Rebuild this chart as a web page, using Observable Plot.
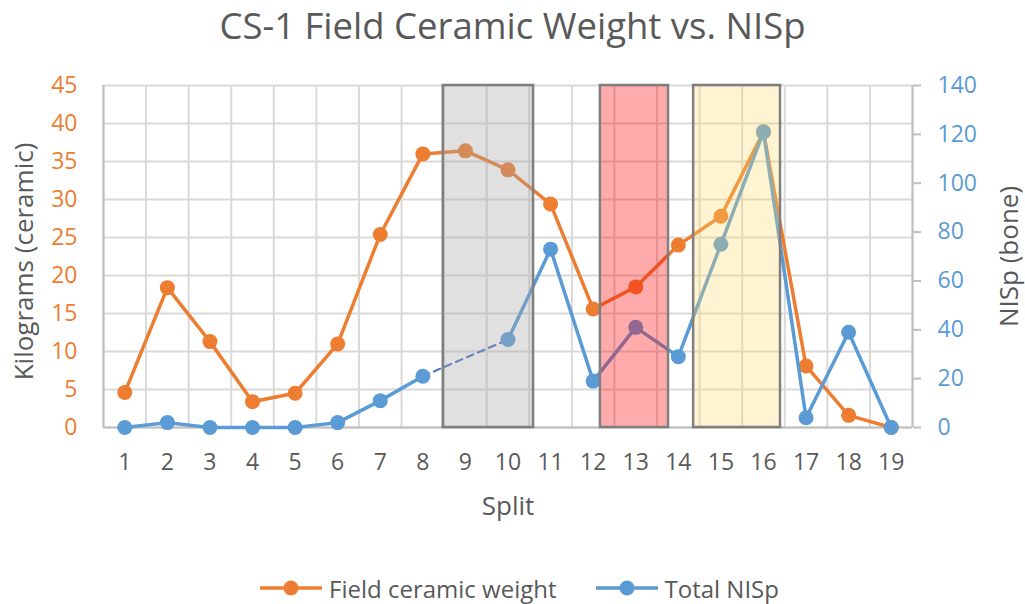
<!DOCTYPE html>
<html>
<head>
<meta charset="utf-8">
<script src="https://cdn.jsdelivr.net/npm/d3@7"></script>
<script src="https://cdn.jsdelivr.net/npm/@observablehq/plot@0.6"></script>
<style>
  html, body { margin: 0; padding: 0; background: #fff; }
  body { width: 1025px; height: 604px; position: relative; overflow: hidden; font-family: "Open Sans", sans-serif; }
  #title { position: absolute; left: 0; top: 0; width: 1025px; height: 56px; line-height: 50px; text-align: center; font-size: 36.5px; color: #595959; }
  #chart { position: absolute; left: 0; top: 60px; }
  #legend { position: absolute; left: 7px; width: 1025px; top: 572px; height: 32px; display: flex; justify-content: center; align-items: center; font-size: 24px; color: #595959; }
  .item { display: flex; align-items: center; }
  .item + .item { margin-left: 39px; }
  .item svg { margin-right: 7px; }
</style>
</head>
<body>
<div id="title">CS-1 Field Ceramic Weight vs. NISp</div>
<div id="chart"></div>
<div id="legend"></div>
<script>
// ---- data ----
const splits = [1, 2, 3, 4, 5, 6, 7, 8, 9, 10, 11, 12, 13, 14, 15, 16, 17, 18, 19];
const ceramicKg = [4.6, 18.4, 11.3, 3.4, 4.5, 11.0, 25.4, 36.0, 36.4, 33.9, 29.4, 15.6, 18.5, 24.0, 27.8, 38.9, 8.1, 1.6, 0];
const totalNISp = [0, 2, 0, 0, 0, 2, 11, 21, null, 36, 73, 19, 41, 29, 75, 121, 4, 39, 0];
const kgTicks = [0, 5, 10, 15, 20, 25, 30, 35, 40, 45];
const nispTicks = [0, 20, 40, 60, 80, 100, 120, 140];
const shadeFrom = [8.48, 12.17, 14.36];
const shadeTo = [10.6, 13.77, 16.4];
const shadeKind = ["gray", "red", "yellow"];
const gapFrom = 8, gapTo = 10;

const kgMax = 45, nispMax = 140;
const toKg = v => v * kgMax / nispMax;

const orange = "#ed7d31", blue = "#5b9bd5";
const ceramic = splits.map((s, i) => ({split: s, v: ceramicKg[i]}));
const nisp = splits.map((s, i) => ({split: s, v: totalNISp[i] == null ? NaN : toKg(totalNISp[i])}));
const gap = nisp.filter(d => d.split === gapFrom || d.split === gapTo);
const shades = shadeFrom.map((a, i) => ({x1: a, x2: shadeTo[i], kind: shadeKind[i]}));
const shadeFill = {gray: "#a6a6a6", red: "#ff0000", yellow: "#ffd966"};
const shadeOpacity = {gray: 0.35, red: 0.33, yellow: 0.3};
const bounds = splits.map(s => s - 0.5).concat([splits[splits.length - 1] + 0.5]);

const chart = Plot.plot({
  width: 1025,
  height: 490,
  marginTop: 25,
  marginBottom: 123,
  marginLeft: 103,
  marginRight: 113,
  style: {fontFamily: "Open Sans, sans-serif", fontSize: "20px", background: "#fff"},
  x: {type: "linear", domain: [0.5, 19.5]},
  y: {domain: [0, kgMax]},
  marks: [
    Plot.ruleY(kgTicks, {stroke: "#d9d9d9", strokeWidth: 2}),
    Plot.ruleX(bounds, {stroke: "#d9d9d9", strokeWidth: 2}),
    Plot.ruleX([0.5, 19.5], {stroke: "#bfbfbf", strokeWidth: 2}),
    Plot.ruleY([0], {stroke: "#bfbfbf", strokeWidth: 2}),
    Plot.axisX(splits, {tickSize: 0, tickPadding: 26, fill: "#595959", fontSize: 23, label: null}),
    Plot.axisY(kgTicks, {anchor: "left", tickSize: 0, tickPadding: 26, fill: orange, fontSize: 23, label: null}),
    Plot.axisY(nispTicks.map(toKg), {anchor: "right", tickSize: 8, tickPadding: 17, stroke: "#bfbfbf", strokeWidth: 2, fill: blue, fontSize: 23, label: null,
      tickFormat: d => String(Math.round(d * nispMax / kgMax))}),
    Plot.line(ceramic, {x: "split", y: "v", stroke: orange, strokeWidth: 3.5}),
    Plot.dot(ceramic, {x: "split", y: "v", r: 7.5, fill: orange}),
    Plot.line(gap, {x: "split", y: "v", stroke: "#4472c4", strokeWidth: 2, strokeDasharray: "7,5"}),
    Plot.line(nisp, {x: "split", y: "v", stroke: blue, strokeWidth: 3.5}),
    Plot.dot(nisp.filter(d => !isNaN(d.v)), {x: "split", y: "v", r: 7.5, fill: blue}),
    Plot.rect(shades, {x1: "x1", x2: "x2", y1: 0, y2: kgMax, fill: d => shadeFill[d.kind], fillOpacity: d => shadeOpacity[d.kind], stroke: "#7f7f7f", strokeWidth: 2.5}),
    Plot.text(["Kilograms (ceramic)"], {frameAnchor: "left", textAnchor: "middle", lineAnchor: "middle", rotate: -90, dx: -79, dy: 5, fill: "#595959", fontSize: 26}),
    Plot.text(["NISp (bone)"], {frameAnchor: "right", textAnchor: "middle", lineAnchor: "middle", rotate: -90, dx: 97, fill: "#595959", fontSize: 26}),
    Plot.text(["Split"], {frameAnchor: "bottom", lineAnchor: "middle", dy: 79, fill: "#595959", fontSize: 26})
  ]
});
document.getElementById("chart").appendChild(chart);

// legend
const legendItems = [["Field ceramic weight", orange], ["Total NISp", blue]];
const legend = document.getElementById("legend");
for (const [name, color] of legendItems) {
  const item = document.createElement("div");
  item.className = "item";
  item.innerHTML = `<svg width="62" height="20"><line x1="0" y1="10" x2="62" y2="10" stroke="${color}" stroke-width="3.5"/><circle cx="31" cy="10" r="7.5" fill="${color}"/></svg><span>${name}</span>`;
  legend.appendChild(item);
}
</script>
</body>
</html>
